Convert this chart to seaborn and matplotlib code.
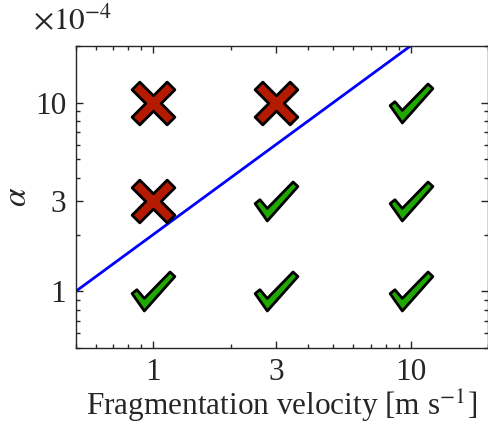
import numpy as np
import pandas as pd
import matplotlib
matplotlib.use("Agg")
import matplotlib.pyplot as plt
from matplotlib.path import Path
import seaborn as sns

# ---- data ----
v_frag = [1, 3, 10, 1, 3, 10, 1, 3, 10]
alpha_vals = [1, 1, 1, 3, 3, 3, 10, 10, 10]
outcome = ["ok", "ok", "ok", "fail", "ok", "ok", "fail", "fail", "ok"]
line_v = [0.5, 20]
line_alpha = [1, 40]
x_ticks = [1, 3, 10]
y_ticks = [1, 3, 10]
x_ticklabels = ["1", "3", "10"]
y_ticklabels = ["1", "3", "10"]

sns.set_style("ticks")
plt.rcParams["font.family"] = ["Liberation Serif", "DejaVu Serif"]
plt.rcParams["mathtext.fontset"] = "stix"

# marker shapes
t = 0.36
cross_verts = [(0, t), (1 - t, 1), (1, 1 - t), (t, 0), (1, -(1 - t)), (1 - t, -1),
               (0, -t), (-(1 - t), -1), (-1, -(1 - t)), (-t, 0), (-1, 1 - t), (-(1 - t), 1), (0, t)]
cross = Path(cross_verts, closed=True)
chk = np.array([(27, 103), (42, 91), (65, 118), (145, 36), (160, 50), (65, 157), (27, 103)], float)
chk[:, 1] = -chk[:, 1]
cx = (chk[:, 0].max() + chk[:, 0].min()) / 2
cy = (chk[:, 1].max() + chk[:, 1].min()) / 2
chk[:, 0] -= cx
chk[:, 1] -= cy
check = Path(chk, closed=True)

df = pd.DataFrame({"v": v_frag, "a": alpha_vals, "o": outcome})

fig = plt.figure(figsize=(4.89, 4.25), dpi=100)
ax = fig.add_axes([0.155, 0.181, 0.843, 0.711])

sns.lineplot(x=line_v, y=line_alpha, ax=ax, color="#0000ff", linewidth=2.0, zorder=2)

ok = df[df.o == "ok"]
fail = df[df.o == "fail"]
sns.scatterplot(data=ok, x="v", y="a", ax=ax, marker=check, s=950, color="#1fa800",
                edgecolor="black", linewidth=2.0, zorder=3)
sns.scatterplot(data=fail, x="v", y="a", ax=ax, marker=cross, s=950, color="#b31a00",
                edgecolor="black", linewidth=2.0, zorder=3)

ax.set_xscale("log")
ax.set_yscale("log")
ax.set_xlim(0.5, 20)
ax.set_ylim(0.5, 20)
ax.set_xticks(x_ticks)
ax.set_xticklabels(x_ticklabels)
ax.set_yticks(y_ticks)
ax.set_yticklabels(y_ticklabels)
ax.tick_params(which="both", direction="in", top=True, right=True, labelsize=22.5, width=1)
ax.tick_params(which="major", length=5, pad=7)
ax.tick_params(which="minor", length=3)
for s in ax.spines.values():
    s.set_linewidth(1.0)
ax.set_xlabel(r"Fragmentation velocity [m s$^{-1}$]", fontsize=22.5, labelpad=1)
ax.set_ylabel(r"$\alpha$", fontsize=24)
ax.yaxis.set_label_coords(-0.105, 0.5)
ax.text(-0.105, 1.053, r"$\times10^{-4}$", transform=ax.transAxes, fontsize=22.5,
        ha="left", va="baseline")

fig.savefig("out.png", dpi=100)
